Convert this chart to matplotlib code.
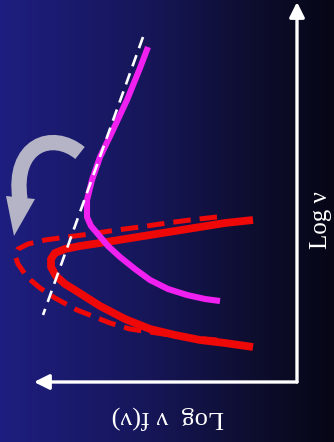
import numpy as np
import matplotlib
matplotlib.use("Agg")
import matplotlib.pyplot as plt
from matplotlib.path import Path
from matplotlib.patches import PathPatch, Polygon

# Diagram curves (image coordinates: x right, y down)
magenta_x = [148, 140, 127, 113, 100, 92, 87, 87, 91, 97, 108, 120, 135, 150, 168, 187, 205, 220]
magenta_y = [47, 68, 100, 130, 157, 180, 200, 217, 226, 233, 246, 257, 269, 280, 289, 295, 299, 301]

white_x = [143, 43]
white_y = [37, 315]

red_solid_x = [253, 225, 200, 175, 150, 125, 100, 80, 65, 55, 51, 51, 56, 65, 78, 100, 125, 150, 175, 200, 225, 253]
red_solid_y = [220, 223, 227, 231, 235, 239, 243, 246, 249, 253, 259, 267, 276, 284, 292, 306, 319, 329, 335, 340, 343, 347]

red_dash_x = [217, 190, 167, 140, 117, 90, 67, 45, 28, 18, 15, 18, 27, 40, 55, 77, 110, 130, 150, 183, 217]
red_dash_y = [217, 220, 223, 227, 230, 234, 237, 240, 244, 249, 255, 264, 277, 288, 298, 310, 323, 329, 332, 337, 340]

axis_origin = (297, 382)
x_arrow_tip = (34, 382)
y_arrow_tip = (297, 2)

# curved grey arrow: body (cubic Bezier control points) and head triangle
curl_body_x = [80, 52, 12, 20]
curl_body_y = [153, 130, 145, 199]
curl_head_x = [6, 14, 35]
curl_head_y = [196, 236, 199]

xlabel = "Log  ν f(ν)"
ylabel = "Log ν"

fig = plt.figure(figsize=(3.34, 4.42), dpi=100)
ax = fig.add_axes([0, 0, 1, 1])
ax.set_xlim(0, 334)
ax.set_ylim(442, 0)
ax.axis("off")

# background gradient (blue -> black, left to right)
c0 = np.array([30, 30, 128]) / 255
c1 = np.array([22, 22, 88]) / 255
c2 = np.array([14, 14, 48]) / 255
c3 = np.array([6, 6, 22]) / 255
xs = np.linspace(0, 1, 400)
stops = [0, 0.45, 0.75, 1.0]
cols = [c0, c1, c2, c3]
grad = np.zeros((1, 400, 3))
for ch in range(3):
    grad[0, :, ch] = np.interp(xs, stops, [c[ch] for c in cols])
ax.imshow(grad, extent=[0, 334, 442, 0], aspect="auto", zorder=0)

# axes arrows
for tip in (x_arrow_tip, y_arrow_tip):
    ax.annotate("", xy=tip, xytext=axis_origin,
                arrowprops=dict(arrowstyle="-|>,head_length=0.9,head_width=0.45",
                                color="white", lw=2.4, shrinkA=0, shrinkB=0,
                                mutation_scale=10), zorder=5)

# curved grey arrow
grey = "#b4b4c6"
body = Path(list(zip(curl_body_x, curl_body_y)),
            [Path.MOVETO, Path.CURVE4, Path.CURVE4, Path.CURVE4])
ax.add_patch(PathPatch(body, facecolor="none", edgecolor=grey, lw=11,
                       capstyle="butt", zorder=2))
ax.add_patch(Polygon(list(zip(curl_head_x, curl_head_y)), closed=True,
                     facecolor=grey, edgecolor="none", zorder=2))

# curves
ax.plot(red_dash_x, red_dash_y, color="#ee0808", lw=3.6, dashes=(3.5, 1.8), zorder=3,
        solid_capstyle="butt")
ax.plot(red_solid_x, red_solid_y, color="#ee0808", lw=5.6, zorder=3, solid_capstyle="butt")
ax.plot(magenta_x, magenta_y, color="#f020f0", lw=4.4, zorder=4, solid_capstyle="butt")
ax.plot(white_x, white_y, color="white", lw=1.9, dashes=(4.5, 2.8), zorder=5)

# labels
ax.text(168, 417, xlabel, rotation=180, ha="center", va="center",
        fontsize=19, color="white", family=["Liberation Serif", "DejaVu Serif"])
ax.text(321, 220, ylabel, rotation=90, ha="center", va="center",
        fontsize=18, color="white", family=["Liberation Serif", "DejaVu Serif"])

fig.savefig("out.png", dpi=100)
